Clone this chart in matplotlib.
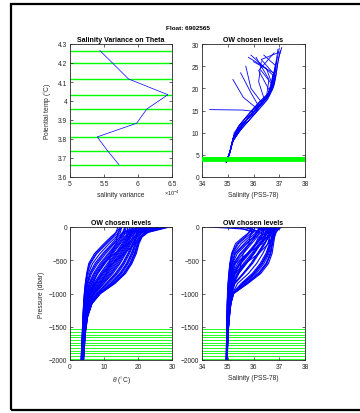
import matplotlib
matplotlib.use("Agg")
import matplotlib.pyplot as plt
from matplotlib.patches import Rectangle
import numpy as np

plt.rcParams['font.family'] = ['Liberation Sans', 'DejaVu Sans']
plt.rcParams['mathtext.fontset'] = 'custom'
plt.rcParams['mathtext.rm'] = 'Liberation Sans'
plt.rcParams['mathtext.it'] = 'Liberation Sans:italic'

float_id = "6902565"

# --- Top-left: salinity variance on theta levels ---
theta_levels = [4.265, 4.198, 4.116, 4.033, 3.958, 3.883, 3.811, 3.739, 3.665]
sal_variance = [5.44e-4, 5.63e-4, 5.86e-4, 6.44e-4, 6.13e-4, 5.98e-4, 5.40e-4, 5.55e-4, 5.72e-4]

# --- Pressure levels of the chosen levels (bottom panels) ---
chosen_pres = [1540, 1580, 1620, 1660, 1700, 1740, 1780, 1820, 1860, 1900, 1940, 1980]

# --- Profiles (pressure levels, dbar) ---
pres = [0, 30, 80, 150, 250, 400, 550, 700, 850, 1000, 1150, 1350, 1600, 2000]

theta_profiles = [
    [14.5, 14.4, 13.6, 12.0, 10.0, 7.2, 5.5, 4.9, 4.5, 4.2, 4.0, 3.8, 3.6, 3.25],
    [15.0, 14.9, 14.3, 12.8, 10.8, 7.9, 6.0, 5.1, 4.6, 4.3, 4.05, 3.85, 3.65, 3.3],
    [15.2, 15.1, 14.8, 13.5, 11.5, 8.8, 6.6, 5.4, 4.8, 4.4, 4.1, 3.9, 3.7, 3.35],
    [22.0, 18.0, 15.5, 14.0, 12.3, 9.6, 7.3, 5.8, 5.0, 4.5, 4.2, 3.95, 3.7, 3.4],
    [16.0, 15.9, 15.5, 14.6, 13.0, 10.5, 8.1, 6.3, 5.3, 4.7, 4.3, 4.0, 3.75, 3.45],
    [25.0, 20.0, 16.8, 15.2, 13.6, 11.2, 8.8, 6.9, 5.6, 4.9, 4.4, 4.05, 3.8, 3.5],
    [16.5, 16.4, 16.2, 15.6, 14.2, 12.0, 9.6, 7.5, 6.0, 5.1, 4.5, 4.1, 3.85, 3.55],
    [27.0, 22.0, 18.0, 16.3, 14.8, 12.6, 10.3, 8.2, 6.5, 5.4, 4.7, 4.2, 3.9, 3.55],
    [17.0, 16.9, 16.8, 16.5, 15.3, 13.3, 11.0, 8.9, 7.0, 5.7, 4.8, 4.3, 3.95, 3.6],
    [24.0, 21.0, 18.3, 17.0, 15.9, 13.9, 11.8, 9.6, 7.6, 6.0, 5.0, 4.4, 4.0, 3.65],
    [18.5, 18.3, 18.0, 17.6, 16.4, 14.6, 12.5, 10.4, 8.2, 6.3, 5.2, 4.5, 4.05, 3.7],
    [28.0, 24.0, 19.5, 18.0, 16.9, 15.2, 13.2, 11.1, 8.8, 6.7, 5.4, 4.6, 4.1, 3.7],
    [19.5, 19.4, 19.0, 18.5, 17.4, 15.8, 14.0, 11.9, 9.4, 7.1, 5.6, 4.7, 4.15, 3.75],
    [26.0, 23.5, 20.0, 19.0, 17.9, 16.4, 14.7, 12.6, 10.0, 7.4, 5.8, 4.8, 4.2, 3.8],
    [21.0, 20.8, 20.0, 19.4, 18.3, 17.0, 15.4, 13.3, 10.6, 7.8, 6.0, 4.9, 4.25, 3.8],
    [29.0, 26.0, 21.5, 19.8, 18.7, 17.5, 16.0, 14.0, 11.2, 8.1, 6.1, 5.0, 4.3, 3.85],
    [23.0, 22.5, 21.0, 20.2, 19.1, 18.0, 16.6, 14.6, 11.8, 8.4, 6.2, 5.0, 4.35, 3.9],
    [27.5, 25.0, 22.0, 20.5, 19.5, 18.5, 17.1, 15.2, 12.3, 8.6, 6.3, 5.1, 4.4, 3.9],
    [28.5, 26.0, 22.5, 20.8, 19.8, 18.9, 17.6, 15.7, 12.7, 8.8, 6.4, 5.1, 4.45, 3.95],
    [25.5, 24.5, 22.5, 21.0, 20.1, 19.2, 17.9, 16.0, 13.0, 8.9, 6.45, 5.15, 4.5, 4.0],
    [29.2, 27.0, 23.0, 21.2, 20.3, 19.5, 18.2, 16.3, 13.2, 9.0, 6.5, 5.2, 4.5, 4.0],
    [14.8, 14.6, 14.2, 13.8, 13.5, 12.0, 11.5, 10.8, 9.0, 7.0, 5.5, 4.6, 4.1, 3.6],
    [20.0, 19.5, 18.5, 17.8, 17.0, 13.0, 10.0, 8.0, 6.8, 5.6, 4.8, 4.3, 3.9, 3.5],
    [26.5, 23.0, 20.5, 19.5, 19.0, 16.0, 12.5, 9.5, 7.5, 6.0, 5.0, 4.4, 4.0, 3.6],
    [14.0, 13.9, 13.5, 12.5, 10.5, 7.6, 5.8, 5.0, 4.55, 4.25, 4.02, 3.82, 3.62, 3.28],
    [23.5, 19.0, 16.0, 14.8, 12.7, 10.0, 7.7, 6.0, 5.1, 4.6, 4.25, 3.98, 3.72, 3.42],
    [16.2, 16.1, 15.8, 15.0, 13.8, 11.6, 9.2, 7.2, 5.8, 5.0, 4.45, 4.07, 3.82, 3.52],
    [26.0, 21.5, 17.5, 16.0, 14.5, 12.3, 9.9, 7.9, 6.3, 5.3, 4.6, 4.15, 3.88, 3.55],
    [17.5, 17.4, 17.2, 16.8, 15.6, 13.6, 11.4, 9.2, 7.3, 5.8, 4.9, 4.35, 3.97, 3.62],
    [27.5, 23.0, 19.0, 17.3, 16.1, 14.2, 12.1, 10.0, 7.9, 6.1, 5.1, 4.45, 4.02, 3.68],
    [18.0, 17.9, 17.7, 17.3, 16.6, 14.9, 12.8, 10.8, 8.5, 6.5, 5.3, 4.55, 4.08, 3.7],
    [28.8, 25.0, 20.5, 18.6, 17.2, 15.5, 13.6, 11.5, 9.1, 6.9, 5.5, 4.65, 4.12, 3.72],
    [20.5, 20.3, 19.8, 19.0, 17.7, 16.1, 14.4, 12.2, 9.7, 7.2, 5.7, 4.75, 4.18, 3.78],
    [27.0, 24.5, 21.0, 19.5, 18.5, 17.2, 15.7, 13.6, 10.9, 7.9, 6.05, 4.95, 4.28, 3.82],
    [24.5, 23.8, 22.0, 20.6, 19.3, 18.2, 16.8, 14.9, 12.0, 8.5, 6.25, 5.05, 4.38, 3.9],
    [28.2, 26.5, 22.8, 21.0, 20.0, 19.0, 17.7, 15.8, 12.8, 8.8, 6.4, 5.1, 4.45, 3.95],
]

sal_profiles = [
    [35.95, 35.95, 35.84, 35.60, 35.30, 35.15, 35.08, 35.04, 35.01, 34.99, 34.98, 34.97, 34.96, 34.94],
    [36.05, 36.03, 35.95, 35.72, 35.42, 35.18, 35.10, 35.06, 35.02, 35.00, 34.98, 34.97, 34.96, 34.94],
    [34.30, 35.60, 36.00, 35.82, 35.52, 35.22, 35.12, 35.07, 35.04, 35.01, 34.99, 34.97, 34.96, 34.95],
    [35.20, 35.60, 36.12, 35.90, 35.64, 35.27, 35.15, 35.09, 35.05, 35.02, 35.00, 34.98, 34.96, 34.95],
    [36.20, 36.19, 36.12, 35.99, 35.75, 35.37, 35.18, 35.11, 35.07, 35.03, 35.00, 34.98, 34.97, 34.95],
    [35.70, 35.90, 36.32, 36.08, 35.84, 35.48, 35.22, 35.13, 35.08, 35.04, 35.01, 34.98, 34.97, 34.95],
    [36.27, 36.26, 36.23, 36.14, 35.93, 35.60, 35.27, 35.16, 35.10, 35.06, 35.01, 34.99, 34.97, 34.95],
    [36.10, 36.60, 36.50, 36.25, 36.12, 35.80, 35.45, 35.22, 35.12, 35.07, 35.03, 34.99, 34.97, 34.95],
    [36.35, 36.34, 36.33, 36.28, 36.10, 35.80, 35.45, 35.22, 35.14, 35.09, 35.04, 35.00, 34.97, 34.96],
    [36.30, 36.70, 36.55, 36.36, 36.10, 35.78, 35.47, 35.27, 35.16, 35.10, 35.05, 35.01, 34.98, 34.96],
    [36.58, 36.56, 36.52, 36.45, 36.27, 36.00, 35.68, 35.36, 35.19, 35.11, 35.06, 35.02, 34.98, 34.96],
    [36.80, 36.20, 36.62, 36.52, 36.25, 35.98, 35.68, 35.38, 35.22, 35.13, 35.07, 35.02, 34.99, 34.96],
    [36.63, 36.62, 36.60, 36.55, 36.42, 36.18, 35.91, 35.59, 35.26, 35.15, 35.08, 35.03, 34.99, 34.97],
    [36.00, 36.78, 36.68, 36.60, 36.40, 36.15, 35.90, 35.60, 35.25, 35.16, 35.09, 35.04, 35.00, 34.97],
    [36.70, 36.70, 36.68, 36.64, 36.55, 36.36, 36.12, 35.80, 35.38, 35.18, 35.10, 35.04, 35.00, 34.97],
    [37.00, 36.90, 36.78, 36.70, 36.65, 36.55, 36.33, 36.02, 35.58, 35.19, 35.11, 35.05, 35.00, 34.97],
    [36.75, 36.75, 36.72, 36.70, 36.64, 36.52, 36.31, 36.00, 35.57, 35.20, 35.11, 35.05, 35.01, 34.97],
    [36.40, 36.88, 36.80, 36.74, 36.68, 36.60, 36.40, 36.10, 35.64, 35.21, 35.12, 35.06, 35.01, 34.97],
    [37.05, 36.95, 36.85, 36.78, 36.72, 36.65, 36.48, 36.18, 35.70, 35.22, 35.12, 35.06, 35.01, 34.97],
    [36.85, 36.83, 36.80, 36.76, 36.72, 36.66, 36.52, 36.22, 35.75, 35.23, 35.12, 35.06, 35.01, 34.98],
    [37.10, 36.98, 36.88, 36.82, 36.78, 36.72, 36.58, 36.28, 35.78, 35.23, 35.12, 35.07, 35.01, 34.98],
    [35.98, 35.95, 35.92, 35.86, 35.82, 35.60, 35.52, 35.42, 35.23, 35.14, 35.08, 35.02, 34.99, 34.96],
    [36.65, 36.63, 36.55, 36.46, 36.35, 35.75, 35.30, 35.18, 35.13, 35.08, 35.04, 35.00, 34.97, 34.95],
    [36.90, 36.80, 36.70, 36.62, 36.58, 36.20, 35.67, 35.26, 35.16, 35.10, 35.05, 35.01, 34.98, 34.96],
    [35.90, 35.88, 35.82, 35.67, 35.37, 35.16, 35.09, 35.05, 35.02, 35.00, 34.98, 34.97, 34.96, 34.94],
    [35.50, 35.90, 36.20, 36.02, 35.70, 35.30, 35.17, 35.10, 35.06, 35.02, 35.00, 34.98, 34.96, 34.95],
    [36.23, 36.22, 36.17, 36.05, 35.87, 35.52, 35.23, 35.14, 35.09, 35.05, 35.01, 34.98, 34.97, 34.95],
    [36.30, 36.20, 36.42, 36.20, 36.07, 35.75, 35.38, 35.18, 35.11, 35.07, 35.02, 34.99, 34.97, 34.95],
    [36.42, 36.41, 36.38, 36.32, 36.14, 35.84, 35.51, 35.24, 35.15, 35.09, 35.04, 35.00, 34.98, 34.96],
    [35.90, 36.75, 36.60, 36.39, 36.21, 35.93, 35.61, 35.30, 35.18, 35.10, 35.06, 35.01, 34.98, 34.96],
    [36.50, 36.49, 36.46, 36.40, 36.29, 36.03, 35.72, 35.42, 35.20, 35.12, 35.07, 35.02, 34.99, 34.96],
    [36.95, 36.85, 36.68, 36.55, 36.27, 36.00, 35.72, 35.42, 35.24, 35.14, 35.08, 35.03, 34.99, 34.96],
    [36.66, 36.65, 36.62, 36.58, 36.45, 36.21, 35.96, 35.63, 35.28, 35.15, 35.09, 35.04, 35.00, 34.97],
    [35.80, 36.50, 36.72, 36.62, 36.62, 36.48, 36.26, 35.95, 35.52, 35.18, 35.10, 35.05, 35.00, 34.97],
    [36.82, 36.80, 36.76, 36.72, 36.66, 36.55, 36.34, 36.04, 35.60, 35.20, 35.11, 35.05, 35.01, 34.97],
    [37.02, 36.30, 36.86, 36.80, 36.74, 36.67, 36.50, 36.20, 35.72, 35.22, 35.12, 35.06, 35.01, 34.97],
]

W, H = 360, 414
fig = plt.figure(figsize=(W / 100, H / 100), dpi=100)

AX_COL = '#262626'
TICK_FS = 4.8
LAB_FS = 4.8
TITLE_FS = 5.0
GREEN = '#00ff00'
BLUE = '#0000ff'


def add_ax(x0, y0, x1, y1):
    ax = fig.add_axes([x0 / W, 1 - y1 / H, (x1 - x0) / W, (y1 - y0) / H])
    for s in ax.spines.values():
        s.set_color(AX_COL)
        s.set_linewidth(0.6)
    ax.tick_params(direction='in', length=2, width=0.5, colors=AX_COL,
                   labelsize=TICK_FS, top=True, right=True, pad=2)
    return ax


# Top-left
ax1 = add_ax(70, 45, 172, 178)
for t in theta_levels:
    ax1.axhline(t, color=GREEN, lw=1.0, zorder=1)
ax1.plot(sal_variance, theta_levels, color=BLUE, lw=0.5, zorder=2)
ax1.set_xlim(5e-4, 6.5e-4)
ax1.set_ylim(3.6, 4.3)
ax1.set_xticks([5e-4, 5.5e-4, 6e-4, 6.5e-4])
ax1.set_xticklabels(['5', '5.5', '6', '6.5'])
ax1.set_yticks(np.round(np.arange(3.6, 4.31, 0.1), 1))
ax1.set_yticklabels(['3.6', '3.7', '3.8', '3.9', '4', '4.1', '4.2', '4.3'])
ax1.set_xlabel('salinity variance', fontsize=LAB_FS, color=AX_COL, labelpad=3)
ax1.set_ylabel(r'Potential temp ($^{\circ}$C)', fontsize=LAB_FS, color=AX_COL, labelpad=3)
ax1.set_title('Salinity Variance on Theta', fontsize=TITLE_FS, fontweight='bold', pad=2)
ax1.text(1.0, -0.115, r'$\times10^{-4}$', transform=ax1.transAxes, fontsize=4.0,
         color=AX_COL, ha='center', va='center')

# Top-right
ax2 = add_ax(202, 45, 305, 178)
for th, sa in zip(theta_profiles, sal_profiles):
    ax2.plot(sa, th, color=BLUE, lw=0.6, zorder=2)
for t in theta_levels:
    ax2.axhline(t, color=GREEN, lw=1.3, zorder=3)
ax2.set_xlim(34, 38)
ax2.set_ylim(0, 30)
ax2.set_xticks([34, 35, 36, 37, 38])
ax2.set_yticks([0, 5, 10, 15, 20, 25, 30])
ax2.set_xlabel('Salinity (PSS-78)', fontsize=LAB_FS, color=AX_COL, labelpad=3)
ax2.set_title('OW chosen levels', fontsize=TITLE_FS, fontweight='bold', pad=2)

neg_pres = [-p for p in pres]

# Bottom-left
ax3 = add_ax(70, 228, 172, 361)
for p in chosen_pres:
    ax3.axhline(-p, color=GREEN, lw=0.6, zorder=1)
for th in theta_profiles:
    ax3.plot(th, neg_pres, color=BLUE, lw=0.8, zorder=2)
ax3.set_xlim(0, 30)
ax3.set_ylim(-2000, 0)
ax3.set_xticks([0, 10, 20, 30])
ax3.set_yticks([-2000, -1500, -1000, -500, 0])
ax3.set_xlabel(r'$\theta$ ($^{\circ}$C)', fontsize=LAB_FS, color=AX_COL, labelpad=3)
ax3.set_ylabel('Pressure (dbar)', fontsize=LAB_FS, color=AX_COL, labelpad=3)
ax3.set_title('OW chosen levels', fontsize=TITLE_FS, fontweight='bold', pad=2)

# Bottom-right
ax4 = add_ax(202, 228, 305, 361)
for p in chosen_pres:
    ax4.axhline(-p, color=GREEN, lw=0.6, zorder=1)
for sa in sal_profiles:
    ax4.plot(sa, neg_pres, color=BLUE, lw=0.8, zorder=2)
ax4.set_xlim(34, 38)
ax4.set_ylim(-2000, 0)
ax4.set_xticks([34, 35, 36, 37, 38])
ax4.set_yticks([-2000, -1500, -1000, -500, 0])
ax4.set_xlabel('Salinity (PSS-78)', fontsize=LAB_FS, color=AX_COL, labelpad=3)
ax4.set_title('OW chosen levels', fontsize=TITLE_FS, fontweight='bold', pad=2)

# Super title
fig.text(188 / W, 1 - 29 / H, 'Float: ' + float_id, fontsize=4.6, fontweight='bold',
         ha='center', va='center')

# Outer frame
fig.patches.append(Rectangle((11 / W, 3 / H), 1.05, (411 - 5) / H, transform=fig.transFigure,
                             fill=False, edgecolor='black', lw=1.6, clip_on=False))

fig.savefig('out.png', dpi=100)
